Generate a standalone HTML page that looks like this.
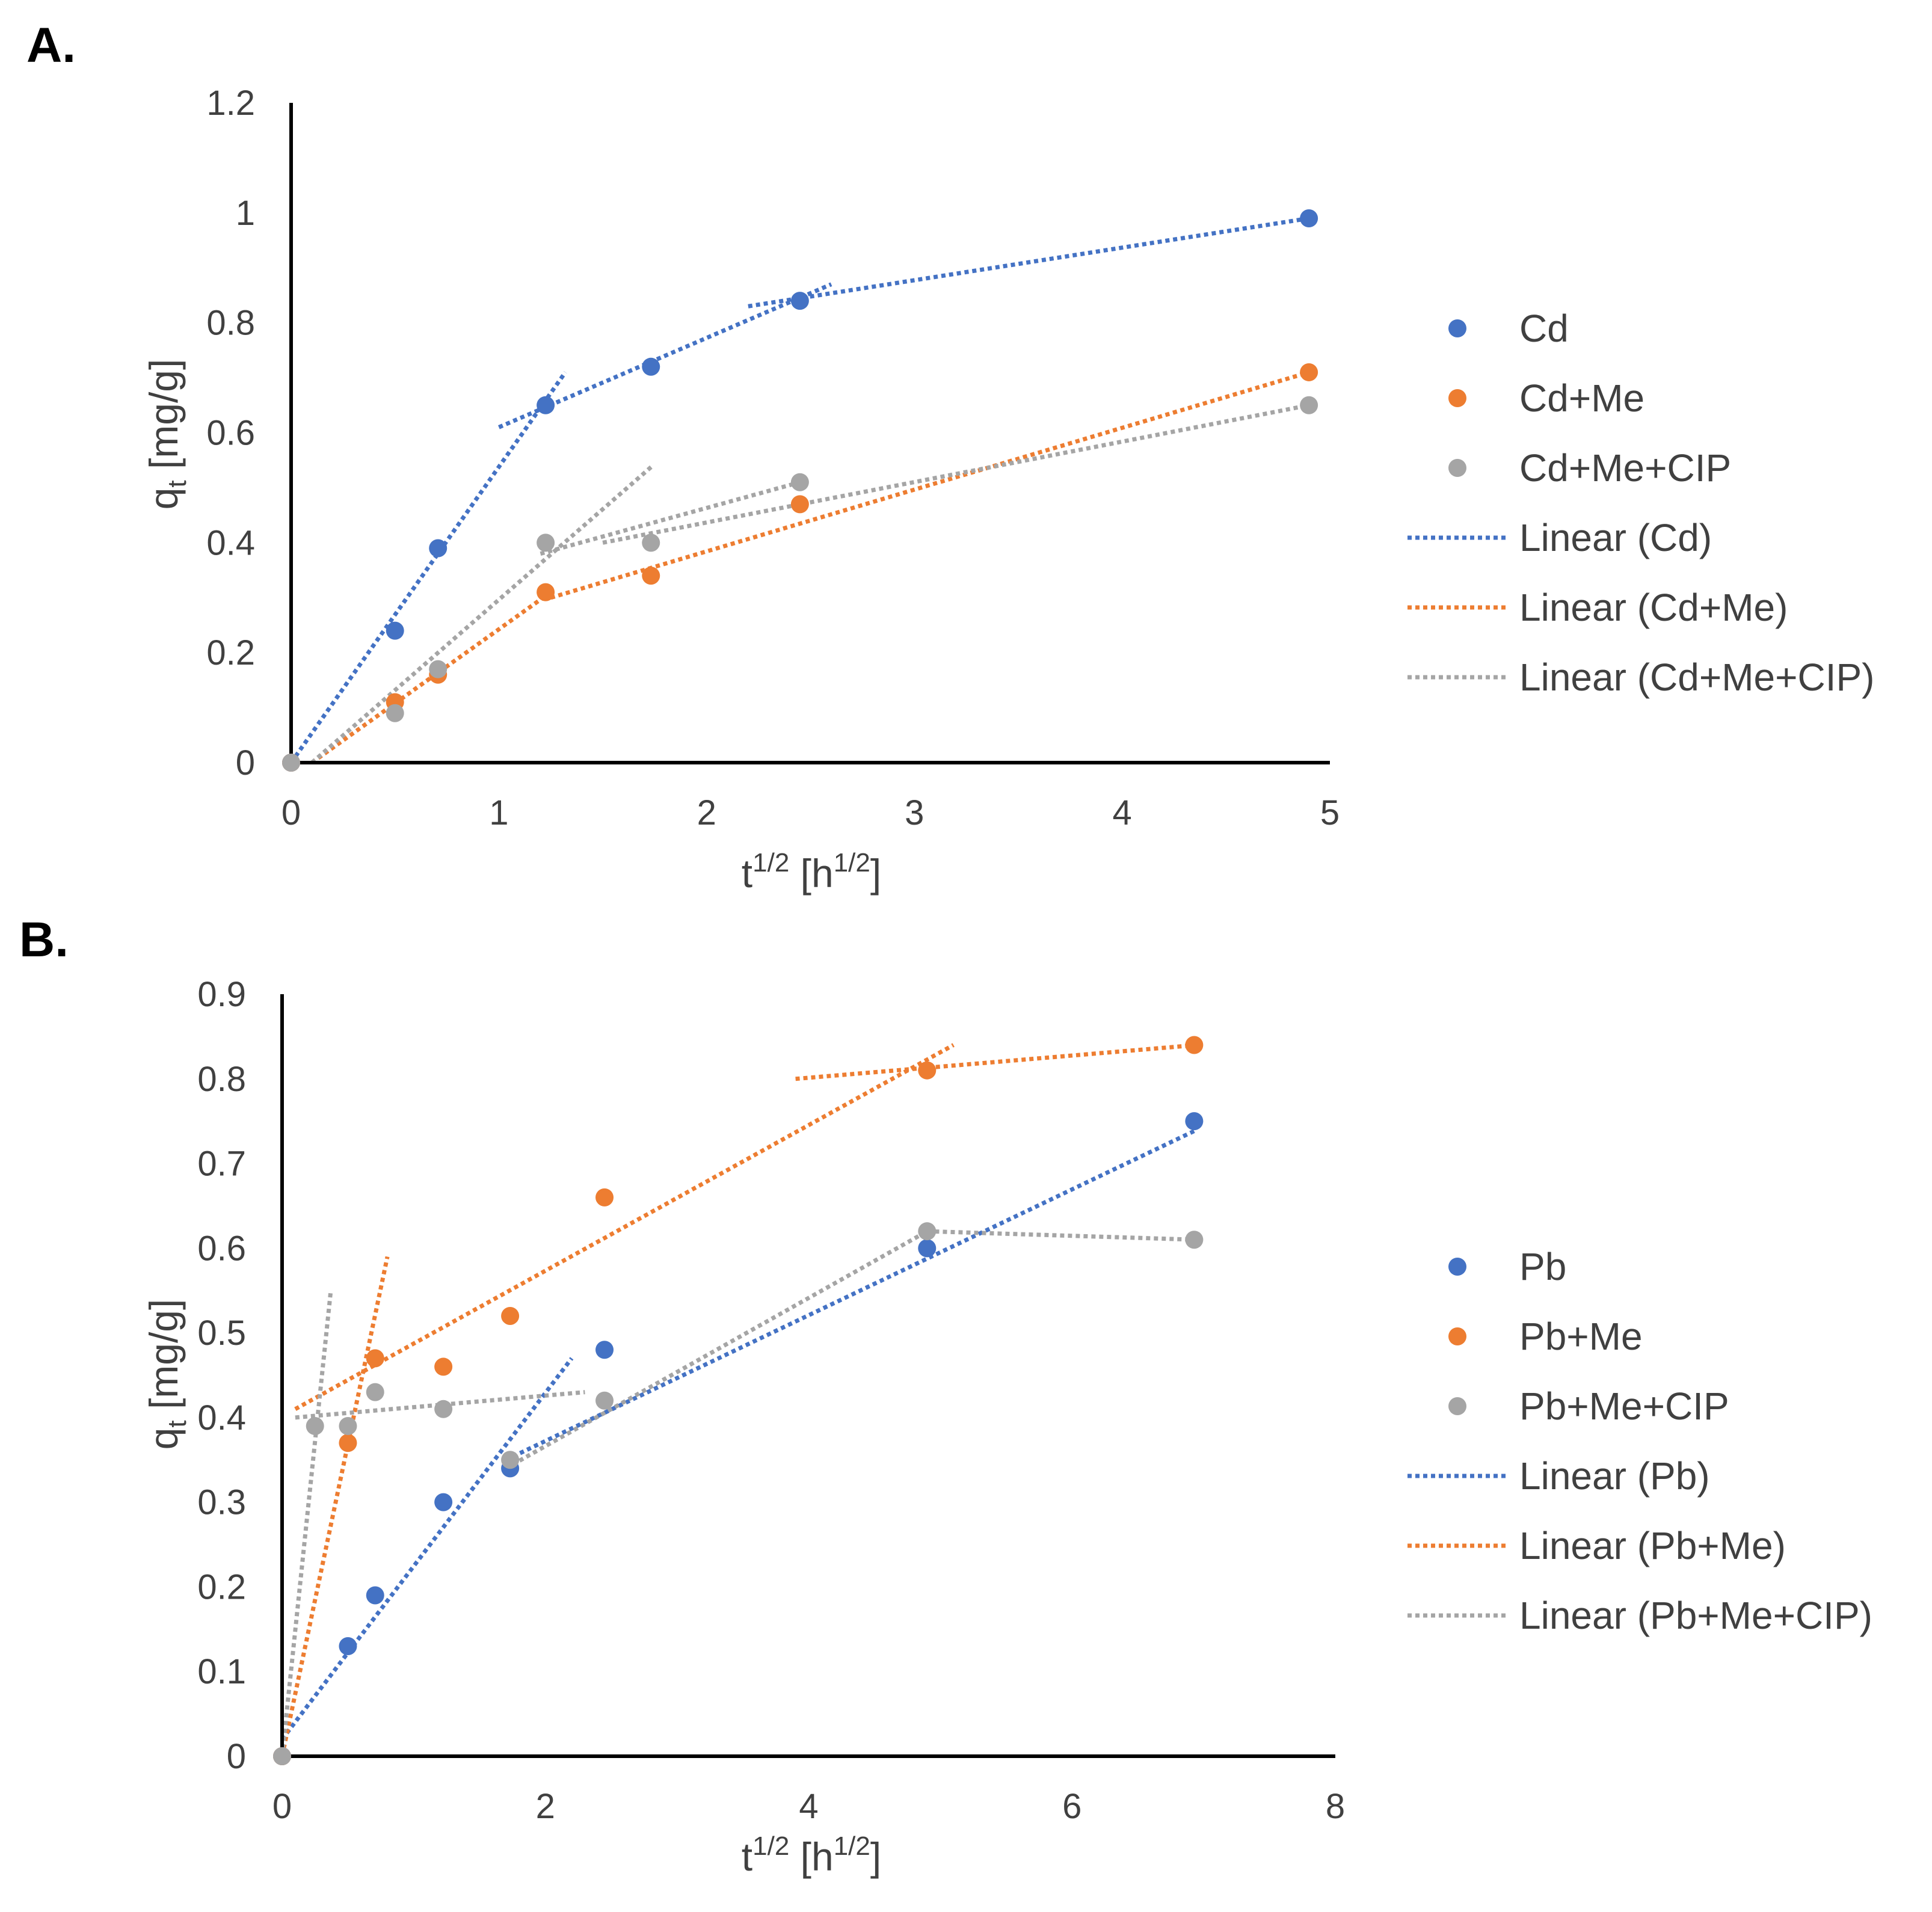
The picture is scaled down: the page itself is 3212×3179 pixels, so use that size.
<!DOCTYPE html>
<html><head><meta charset="utf-8"><style>
html,body{margin:0;padding:0;background:#fff;}
svg{display:block;font-family:"Liberation Sans",Arial,sans-serif;}
</style></head><body>
<svg id="fig" width="3212" height="3179" viewBox="0 0 3212 3179" xmlns="http://www.w3.org/2000/svg">
<rect width="3212" height="3179" fill="#fff"/>
<text x="44" y="103" font-size="82" font-weight="bold" fill="#000">A.</text>
<text x="32" y="1590" font-size="82" font-weight="bold" fill="#000">B.</text>
</svg>
<script>
// ---------- Panel A data ----------
const xA = [0, 0.5, 0.707, 1.225, 1.732, 2.449, 4.899];
const cdA = [0, 0.24, 0.39, 0.65, 0.72, 0.84, 0.99];
const cdMeA = [0, 0.11, 0.16, 0.31, 0.34, 0.47, 0.71];
const cdMeCipA = [0, 0.09, 0.17, 0.40, 0.40, 0.51, 0.65];
const trendCdA = [[0,0,1.32,0.71],[1.0,0.61,2.6,0.87],[2.2,0.83,4.9,0.99]];
const trendCdMeA = [[0.1,0,1.25,0.31],[1.25,0.30,4.9,0.71]];
const trendCipA = [[0.1,0,1.74,0.54],[1.2,0.38,2.45,0.51],[1.5,0.40,4.9,0.65]];
const xTicksA = [0,1,2,3,4,5];
const yTicksA = [0,0.2,0.4,0.6,0.8,1,1.2];
const legendA = ["Cd","Cd+Me","Cd+Me+CIP","Linear (Cd)","Linear (Cd+Me)","Linear (Cd+Me+CIP)"];
// ---------- Panel B data ----------
const xPbB = [0, 0.5, 0.707, 1.225, 1.732, 2.449, 4.899, 6.928];
const pbB = [0, 0.13, 0.19, 0.30, 0.34, 0.48, 0.60, 0.75];
const pbMeB = [0, 0.37, 0.47, 0.46, 0.52, 0.66, 0.81, 0.84];
const xCipB = [0, 0.25, 0.5, 0.707, 1.225, 1.732, 2.449, 4.899, 6.928];
const pbMeCipB = [0, 0.39, 0.39, 0.43, 0.41, 0.35, 0.42, 0.62, 0.61];
const trendPbB = [[0,0.02,2.2,0.47],[1.7,0.35,6.95,0.74]];
const trendPbMeB = [[0,0,0.8,0.59],[0.1,0.41,5.1,0.84],[3.9,0.80,6.95,0.84]];
const trendCipB = [[0,0,0.37,0.55],[0.1,0.40,2.3,0.43],[1.7,0.34,4.9,0.62],[4.9,0.62,6.95,0.61]];
const xTicksB = [0,2,4,6,8];
const yTicksB = [0,0.1,0.2,0.3,0.4,0.5,0.6,0.7,0.8,0.9];
const legendB = ["Pb","Pb+Me","Pb+Me+CIP","Linear (Pb)","Linear (Pb+Me)","Linear (Pb+Me+CIP)"];

const COLORS = ["#4472C4","#ED7D31","#A5A5A5"];
const NS = "http://www.w3.org/2000/svg";
const svg = document.getElementById('fig');
function mk(tag, attrs, parent){const e=document.createElementNS(NS,tag);for(const k in attrs)e.setAttribute(k,attrs[k]);(parent||svg).appendChild(e);return e;}

function panel(cfg){
  const g = mk('g',{});
  
  
  const sx = v => cfg.x0 + (v - cfg.xmin)/(cfg.xmax-cfg.xmin)*(cfg.x1-cfg.x0);
  const sy = v => cfg.y0 - (v - cfg.ymin)/(cfg.ymax-cfg.ymin)*(cfg.y0-cfg.y1);
  cfg.trends.forEach((segs,si)=>{
    segs.forEach(s=>{
      const l = mk('line',{x1:sx(s[0]),y1:sy(s[1]),x2:sx(s[2]),y2:sy(s[3]),stroke:COLORS[si],'stroke-width':7,'stroke-dasharray':'7 6'},g);
      
      
    });
  });
  const ya = mk('line',{x1:cfg.x0,y1:cfg.y1,x2:cfg.x0,y2:cfg.y0+2,stroke:'#000','stroke-width':6},g);
  
  
  const xa = mk('line',{x1:cfg.x0-3,y1:cfg.y0,x2:cfg.x1,y2:cfg.y0,stroke:'#000','stroke-width':6},g);
  
  
  cfg.series.forEach((s,si)=>{
    s.y.forEach((v,i)=>{
      const c = mk('circle',{cx:sx(s.x[i]),cy:sy(v),r:15,fill:COLORS[si]},g);
      
      
    });
  });
  cfg.xt.forEach(t=>{
    const e = mk('text',{x:sx(t),y:cfg.y0+103,'font-size':58,'text-anchor':'middle',fill:'#404040'},g);
    e.textContent = t;
    
    
  });
  cfg.yt.forEach(t=>{
    const e = mk('text',{x:cfg.x0-60,y:sy(t)+20,'font-size':58,'text-anchor':'end',fill:'#404040'},g);
    e.textContent = t;
    
    
  });
  const xt = mk('text',{x:cfg.xtx,y:cfg.xty,'font-size':66,'text-anchor':'middle',fill:'#404040'},g);
  xt.innerHTML = 't<tspan font-size="44" dy="-26">1/2</tspan><tspan dy="26"> [h</tspan><tspan font-size="44" dy="-26">1/2</tspan><tspan dy="26">]</tspan>';
  
  
  const ytt = mk('text',{x:0,y:0,'font-size':66,'text-anchor':'middle',fill:'#404040',transform:`translate(${cfg.ytx},${cfg.yty}) rotate(-90)`},g);
  ytt.innerHTML = 'q<tspan font-size="44" dy="14">t</tspan><tspan dy="-14"> [mg/g]</tspan>';
  
  
  cfg.legend.forEach((lab,i)=>{
    const y = cfg.ly[0] + i*cfg.ldy;
    const ci = i%3;
    if(i<3){
      const m = mk('circle',{cx:2423,cy:y,r:15,fill:COLORS[ci]},g);
      
      
    } else {
      const m = mk('line',{x1:2340,y1:y,x2:2505,y2:y,stroke:COLORS[ci],'stroke-width':7,'stroke-dasharray':'7 6'},g);
      
      
    }
    const t = mk('text',{x:2526,y:y+22,'font-size':64,fill:'#404040'},g);
    t.textContent = lab;
    
    
  });
}

panel({name:'chart-a',x0:484,x1:2211,y0:1268,y1:171,xmin:0,xmax:5,ymin:0,ymax:1.2,
  xt:xTicksA,yt:yTicksA,
  series:[{x:xA,y:cdA},{x:xA,y:cdMeA},{x:xA,y:cdMeCipA}],
  trends:[trendCdA,trendCdMeA,trendCipA],
  xtx:1349,xty:1475,ytx:295,yty:722,legend:legendA,ly:[546],ldy:116});
panel({name:'chart-b',x0:469,x1:2220,y0:2920,y1:1653,xmin:0,xmax:8,ymin:0,ymax:0.9,
  xt:xTicksB,yt:yTicksB,
  series:[{x:xPbB,y:pbB},{x:xPbB,y:pbMeB},{x:xCipB,y:pbMeCipB}],
  trends:[trendPbB,trendPbMeB,trendCipB],
  xtx:1349,xty:3110,ytx:295,yty:2285,legend:legendB,ly:[2106],ldy:116});
</script>
</body></html>
